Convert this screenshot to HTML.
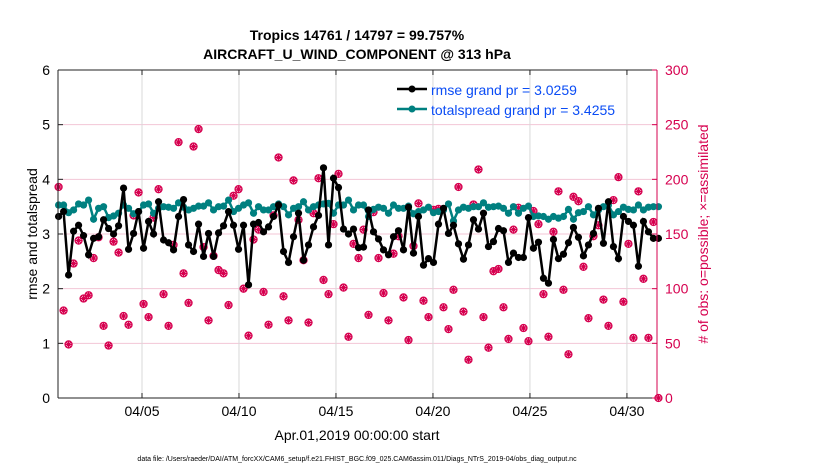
<!DOCTYPE html>
<html><head><meta charset="utf-8"><style>
html,body{margin:0;padding:0;background:#fff;}
svg{display:block;font-family:"Liberation Sans",sans-serif;}
</style></head><body>
<svg id="chart" width="830" height="470" viewBox="0 0 830 470">
<text x="357" y="40" text-anchor="middle" font-size="14" font-weight="bold">Tropics 14761 / 14797 = 99.757%</text>
<text x="357" y="59" text-anchor="middle" font-size="14" font-weight="bold">AIRCRAFT_U_WIND_COMPONENT @ 313 hPa</text>
<g id="grid"></g>
<g id="obs"></g>
<g id="lines"></g>
<g id="axes"></g>
<g>
 <line x1="397" y1="89" x2="427" y2="89" stroke="#000" stroke-width="2.5"/>
 <circle cx="412" cy="89" r="3.5" fill="#000"/>
 <text x="431" y="95" font-size="14" fill="#0a4cf5">rmse grand pr = 3.0259</text>
 <line x1="397" y1="109" x2="427" y2="109" stroke="#008080" stroke-width="2.5"/>
 <circle cx="412" cy="109" r="3.5" fill="#008080"/>
 <text x="431" y="115" font-size="14" fill="#0a4cf5">totalspread grand pr = 3.4255</text>
</g>
<text transform="translate(37,234) rotate(-90)" text-anchor="middle" font-size="14">rmse and totalspread</text>
<text transform="translate(708,234) rotate(-90)" text-anchor="middle" font-size="14" fill="#d6004f"># of obs: o=possible; ×=assimilated</text>
<text x="357" y="440" text-anchor="middle" font-size="14">Apr.01,2019 00:00:00 start</text>
<text x="357" y="461" text-anchor="middle" font-size="7">data file: /Users/raeder/DAI/ATM_forcXX/CAM6_setup/f.e21.FHIST_BGC.f09_025.CAM6assim.011/Diags_NTrS_2019-04/obs_diag_output.nc</text>
</svg>
<script>
const rmse=[3.32,3.41,2.25,3.05,3.16,2.97,2.62,2.92,2.95,3.26,3.10,3.0,3.15,3.84,2.72,3.01,3.41,2.74,3.23,3.0,3.59,2.89,2.84,2.71,3.32,3.63,2.8,2.68,3.18,2.59,3.01,
2.59,3.02,3.15,3.41,3.16,2.72,3.16,2.07,3.18,3.21,3.04,3.13,3.32,3.53,2.68,2.48,2.95,3.38,2.52,2.8,3.13,3.34,4.21,2.8,4.02,3.85,3.09,3.0,3.09,2.75,
2.76,3.44,3.04,2.91,2.71,2.62,2.95,3.06,2.71,3.49,2.65,3.32,2.43,2.55,2.48,3.18,3.47,3.01,3.16,2.82,2.54,2.8,3.26,3.09,3.38,2.77,2.86,3.10,3.06,2.48,
2.65,2.57,2.57,3.30,2.74,2.85,2.19,2.1,2.9,2.55,2.63,2.84,3.12,2.94,2.6,2.8,3.01,3.47,2.83,3.59,2.77,2.55,3.32,3.23,3.16,2.41,3.23,3.04,2.92,2.92];
const spread=[3.53,3.53,3.39,3.44,3.55,3.53,3.62,3.27,3.47,3.5,3.30,3.33,3.38,3.53,3.47,3.37,3.41,3.53,3.55,3.38,3.47,3.5,3.49,3.47,3.57,3.49,3.44,3.47,3.51,3.51,3.57,
3.44,3.5,3.51,3.62,3.41,3.47,3.53,3.57,3.38,3.5,3.44,3.44,3.5,3.55,3.5,3.35,3.47,3.5,3.59,3.44,3.5,3.53,3.55,3.56,3.38,3.53,3.53,3.62,3.44,3.53,
3.53,3.32,3.45,3.49,3.47,3.38,3.53,3.47,3.47,3.51,3.37,3.41,3.44,3.49,3.39,3.41,3.44,3.55,3.24,3.44,3.49,3.47,3.5,3.5,3.57,3.49,3.5,3.51,3.47,3.38,
3.5,3.38,3.47,3.51,3.32,3.33,3.32,3.27,3.32,3.29,3.32,3.45,3.27,3.39,3.41,3.5,3.35,3.44,3.5,3.53,3.35,3.41,3.49,3.45,3.44,3.53,3.44,3.49,3.5,3.5];
const nobs=[193,80,49,123,144,91,94,128,147,66,48,143,133,75,67,167,188,86,74,165,191,95,66,140,234,114,87,230,246,138,71,
130,117,114,85,185,191,100,57,145,154,97,67,167,220,93,71,199,163,126,69,169,201,108,95,159,205,101,56,141,128,
154,76,170,128,96,71,132,148,92,53,139,178,89,74,172,173,83,63,99,193,79,35,177,209,74,46,116,118,83,54,
154,174,64,52,171,159,95,56,152,189,99,40,184,180,120,73,148,158,90,66,181,202,88,141,55,189,109,55,161,0];
const tickDays=[4,9,14,19,24,29];
const tickLabels=["04/05","04/10","04/15","04/20","04/25","04/30"];
const leftTicks=[0,1,2,3,4,5,6];
const rightTicks=[0,50,100,150,200,250,300];
const t0=-0.3, dt=0.2577;

const NS="http://www.w3.org/2000/svg";
const PX0=58,PX1=657,PY0=398,PY1=70,D0=-0.33,D1=30.55;
const X=d=>PX0+(d-D0)/(D1-D0)*(PX1-PX0);
const Y=v=>PY0-v/6*(PY0-PY1);
const YR=n=>PY0-n/300*(PY0-PY1);
function mk(tag,attrs,parent){const e=document.createElementNS(NS,tag);for(const k in attrs)e.setAttribute(k,attrs[k]);parent.appendChild(e);return e;}
const grid=document.getElementById('grid'),axes=document.getElementById('axes'),obsG=document.getElementById('obs'),lines=document.getElementById('lines');
const RED="#d6004f";
// grid
rightTicks.forEach(t=>{if(t>0&&t<300){const l=mk('line',{x1:PX0,x2:PX1,y1:YR(t),y2:YR(t),stroke:"#f3c6d6","stroke-width":1},grid);

}});
tickDays.forEach((d,i)=>{const l=mk('line',{x1:X(d),x2:X(d),y1:PY1,y2:PY0,stroke:"#d8d8d8","stroke-width":1},grid);


const tk=mk('line',{x1:X(d),x2:X(d),y1:PY0,y2:PY0-5,stroke:"#222"},axes);
const tk2=mk('line',{x1:X(d),x2:X(d),y1:PY1,y2:PY1+5,stroke:"#222"},axes);
const tx=mk('text',{x:X(d),y:PY0+18,"text-anchor":"middle","font-size":14},axes);tx.textContent=tickLabels[i];

});
// frame
mk('line',{x1:PX0,x2:PX0,y1:PY1,y2:PY0,stroke:"#222"},axes);
mk('line',{x1:PX0,x2:PX1,y1:PY1,y2:PY1,stroke:"#222"},axes);
mk('line',{x1:PX0,x2:PX1,y1:PY0,y2:PY0,stroke:"#222"},axes);
mk('line',{x1:PX1,x2:PX1,y1:PY1,y2:PY0,stroke:RED},axes);
leftTicks.forEach(t=>{mk('line',{x1:PX0,x2:PX0+5,y1:Y(t),y2:Y(t),stroke:"#222"},axes);
const tx=mk('text',{x:PX0-8,y:Y(t)+5,"text-anchor":"end","font-size":14},axes);tx.textContent=t;

});
rightTicks.forEach(t=>{mk('line',{x1:PX1-5,x2:PX1,y1:YR(t),y2:YR(t),stroke:RED},axes);
const tx=mk('text',{x:PX1+8,y:YR(t)+5,"font-size":14,fill:RED},axes);tx.textContent=t;

});
// obs markers
nobs.forEach((n,i)=>{const x=X(t0+i*dt),y=YR(n);const g=mk('g',{},obsG);


mk('circle',{cx:x,cy:y,r:3.5,fill:"none",stroke:RED,"stroke-width":1.3},g);
mk('path',{d:`M${x-3.5} ${y}H${x+3.5}M${x} ${y-3.5}V${y+3.5}M${x-2.5} ${y-2.5}L${x+2.5} ${y+2.5}M${x-2.5} ${y+2.5}L${x+2.5} ${y-2.5}`,stroke:RED,"stroke-width":1.2},g);});
// lines
function series(vals,color,name,r){const pts=vals.map((v,i)=>[X(t0+i*dt),Y(v)]);
const pl=mk('polyline',{points:pts.map(p=>p.join(',')).join(' '),fill:"none",stroke:color,"stroke-width":2.5},lines);


pts.forEach(p=>{const c=mk('circle',{cx:p[0],cy:p[1],r:r,fill:color},lines);

});}
series(spread,"#008080","totalspread",3.6);
series(rmse,"#000","rmse",3.6);
</script>
</body></html>
